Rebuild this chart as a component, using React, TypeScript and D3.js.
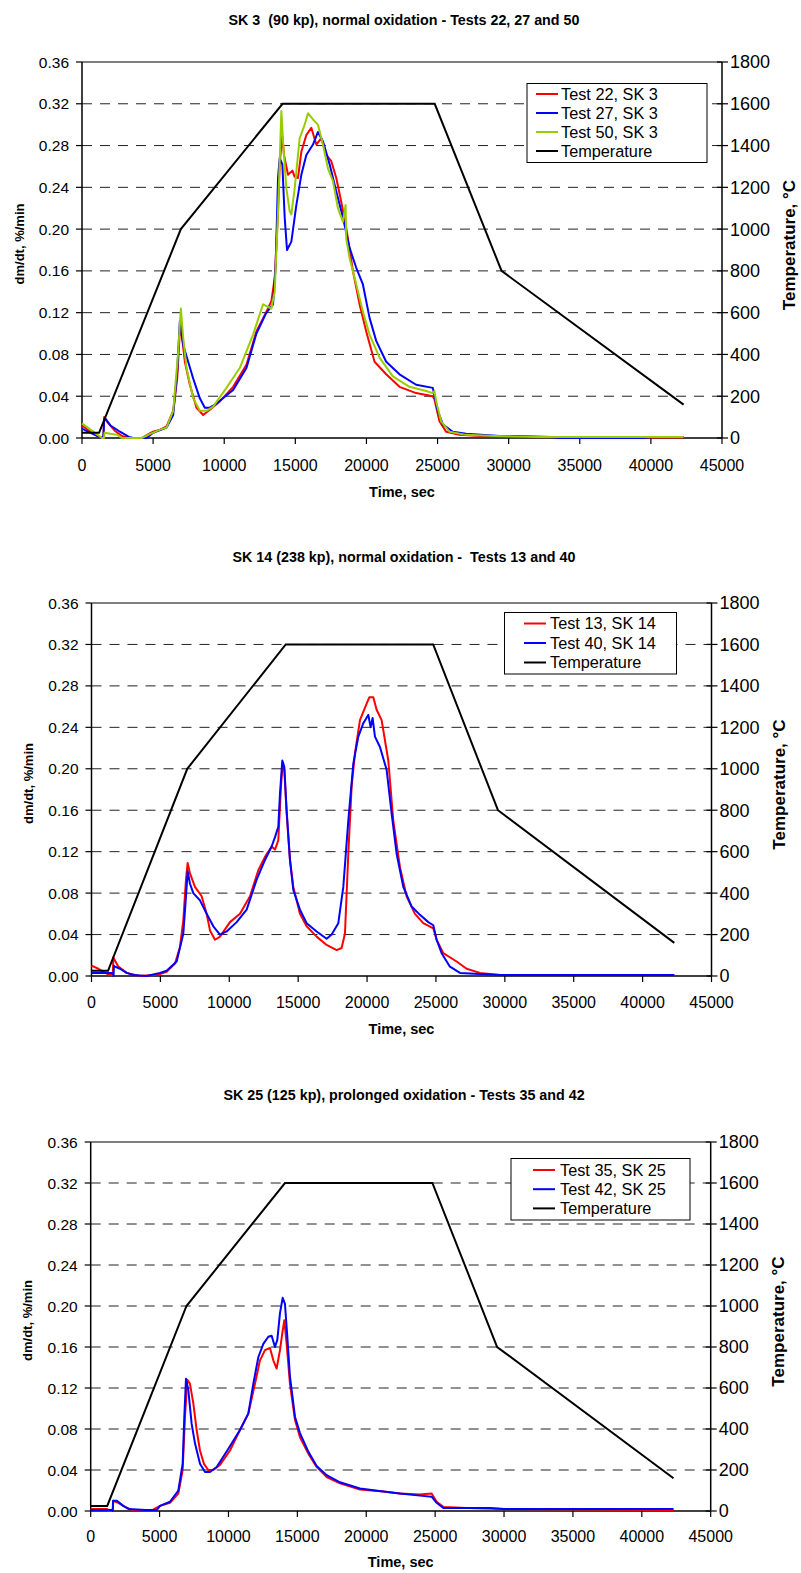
import React from "react";
import * as d3 from "d3";

type Pt = [number, number];

// ---------- shared axes ----------
const xTicks = [0, 5000, 10000, 15000, 20000, 25000, 30000, 35000, 40000, 45000];
const yTicks = [0, 0.04, 0.08, 0.12, 0.16, 0.2, 0.24, 0.28, 0.32, 0.36];
const tTicks = [0, 200, 400, 600, 800, 1000, 1200, 1400, 1600, 1800];

// temperature programme (time s, °C)
const temperature: Pt[] = [
  [0, 25], [1200, 25], [6950, 1000], [14100, 1600], [24800, 1600], [29500, 800], [42300, 160],
];

// ---------- panel 1: SK 3 ----------
const p1Test22: Pt[] = [
  [0, 0.012], [600, 0.006], [1200, 0.001], [1500, 0.0], [1560, 0.02], [1800, 0.015], [2300, 0.007], [2800, 0.002],
  [3300, 0.0], [4200, 0.0], [4700, 0.004], [5000, 0.006], [5500, 0.008], [5945, 0.011], [6413, 0.026], [6694, 0.057],
  [6850, 0.095], [6930, 0.11], [7050, 0.095], [7232, 0.073], [7583, 0.051], [8050, 0.029], [8519, 0.022], [8987, 0.027],
  [9689, 0.035], [10625, 0.049], [11561, 0.07], [12263, 0.102], [12965, 0.121], [13316, 0.131], [13550, 0.153],
  [13784, 0.217], [13900, 0.262], [14018, 0.281], [14088, 0.289], [14200, 0.271], [14486, 0.252], [14800, 0.256],
  [14950, 0.25], [15188, 0.249], [15422, 0.274], [15773, 0.29], [16124, 0.297], [16475, 0.281], [16826, 0.287],
  [17177, 0.271], [17528, 0.265], [17879, 0.249], [18230, 0.226], [18581, 0.201], [19049, 0.16], [19517, 0.128],
  [19985, 0.102], [20570, 0.073], [21389, 0.061], [22325, 0.049], [23495, 0.043], [24665, 0.04], [24780, 0.037],
  [25133, 0.016], [25601, 0.006], [26537, 0.003], [28000, 0.002], [30000, 0.001], [42300, 0.0005],
];
const p1Test27: Pt[] = [
  [0, 0.009], [600, 0.005], [1200, 0.001], [1500, 0.0], [1560, 0.018], [1616, 0.019], [2000, 0.012], [2669, 0.006],
  [3300, 0.001], [3600, 0.0], [4541, 0.0], [5000, 0.005], [5945, 0.01], [6413, 0.022], [6694, 0.064], [6881, 0.112],
  [6950, 0.105], [7115, 0.089], [7466, 0.073], [7817, 0.057], [8285, 0.038], [8636, 0.029], [8987, 0.029],
  [9455, 0.033], [10625, 0.046], [11561, 0.067], [12263, 0.1], [12965, 0.12], [13433, 0.128], [13620, 0.166],
  [13784, 0.249], [13901, 0.268], [14088, 0.262], [14252, 0.211], [14416, 0.18], [14720, 0.188], [15071, 0.223],
  [15422, 0.252], [15773, 0.271], [16241, 0.281], [16592, 0.293], [16943, 0.284], [17411, 0.262], [17879, 0.236],
  [18347, 0.211], [18815, 0.182], [19283, 0.163], [19751, 0.147], [20219, 0.115], [20687, 0.093], [21389, 0.073],
  [22325, 0.061], [23495, 0.051], [24665, 0.048], [24780, 0.041], [25016, 0.026], [25367, 0.013], [26069, 0.006],
  [27000, 0.004], [29345, 0.002], [30500, 0.002], [33000, 0.001], [33500, 0.0], [39500, 0.0], [40000, 0.001],
  [42300, 0.001],
];
const p1Test50: Pt[] = [
  [0, 0.014], [500, 0.009], [1000, 0.004], [1400, 0.0], [1550, 0.0], [1580, 0.005], [2000, 0.004], [2500, 0.003],
  [2800, 0.0], [4200, 0.0], [4800, 0.004], [5500, 0.008], [5945, 0.01], [6413, 0.026], [6750, 0.08], [6952, 0.124],
  [7115, 0.096], [7349, 0.067], [7817, 0.038], [8285, 0.026], [8753, 0.026], [9221, 0.03], [10157, 0.048],
  [11093, 0.067], [12029, 0.099], [12731, 0.128], [13316, 0.124], [13550, 0.14], [13784, 0.217], [14018, 0.313],
  [14135, 0.284], [14369, 0.239], [14603, 0.217], [14720, 0.214], [14954, 0.239], [15305, 0.287], [15656, 0.3],
  [15890, 0.311], [16241, 0.305], [16592, 0.3], [16943, 0.281], [17294, 0.258], [17645, 0.246], [17996, 0.22],
  [18347, 0.207], [18534, 0.223], [18580, 0.191], [18815, 0.172], [19283, 0.147], [19751, 0.121], [20219, 0.099],
  [20921, 0.077], [21857, 0.059], [23027, 0.049], [24197, 0.045], [24665, 0.043], [24780, 0.045], [24900, 0.035],
  [25250, 0.016], [25836, 0.006], [27000, 0.003], [29000, 0.002], [32000, 0.001], [42300, 0.001],
];

// ---------- panel 2: SK 14 ----------
const p2Test13: Pt[] = [
  [0, 0.01], [500, 0.007], [1000, 0.003], [1300, 0.001], [1550, 0.001], [1585, 0.018], [1947, 0.009], [2552, 0.003],
  [3500, 0.0], [4500, 0.001], [4971, 0.002], [5455, 0.004], [6060, 0.012], [6423, 0.028], [6665, 0.054],
  [6858, 0.093], [6979, 0.109], [7148, 0.099], [7511, 0.086], [7995, 0.077], [8358, 0.06], [8600, 0.044],
  [8963, 0.035], [9325, 0.038], [10051, 0.052], [10777, 0.06], [11503, 0.077], [12107, 0.102], [12591, 0.115],
  [13075, 0.125], [13317, 0.122], [13559, 0.131], [13752, 0.183], [13873, 0.205], [13994, 0.199], [14163, 0.157],
  [14405, 0.112], [14647, 0.086], [15131, 0.06], [15615, 0.048], [16340, 0.038], [17066, 0.03], [17792, 0.025],
  [18155, 0.027], [18397, 0.041], [18639, 0.118], [18881, 0.183], [19123, 0.215], [19486, 0.247], [19970, 0.263],
  [20163, 0.269], [20453, 0.269], [20695, 0.257], [21058, 0.247], [21541, 0.208], [21904, 0.15], [22388, 0.105],
  [22872, 0.077], [23477, 0.06], [24081, 0.051], [24807, 0.046], [25049, 0.035], [25533, 0.022], [26501, 0.014],
  [27226, 0.007], [28194, 0.003], [29645, 0.001], [35000, 0.001], [42300, 0.001],
];
const p2Test40: Pt[] = [
  [0, 0.003], [1550, 0.003], [1600, 0.0], [1630, 0.01], [1706, 0.009], [2068, 0.007], [2552, 0.003], [3036, 0.001],
  [4000, 0.0], [4971, 0.003], [5455, 0.005], [6181, 0.014], [6665, 0.041], [6858, 0.077], [6979, 0.101],
  [7148, 0.089], [7390, 0.08], [7874, 0.073], [8358, 0.06], [8842, 0.048], [9325, 0.04], [9809, 0.043],
  [10535, 0.052], [11261, 0.064], [11987, 0.093], [12591, 0.112], [13075, 0.125], [13317, 0.134], [13559, 0.144],
  [13680, 0.176], [13849, 0.208], [13994, 0.202], [14163, 0.16], [14405, 0.112], [14647, 0.083], [15131, 0.064],
  [15615, 0.051], [16340, 0.043], [17066, 0.036], [17430, 0.04], [17913, 0.051], [18276, 0.086], [18639, 0.15],
  [19002, 0.205], [19365, 0.231], [19728, 0.244], [20090, 0.252], [20259, 0.24], [20404, 0.249], [20574, 0.231],
  [20937, 0.221], [21420, 0.199], [21783, 0.157], [22146, 0.118], [22630, 0.086], [23235, 0.067], [23840, 0.059],
  [24444, 0.052], [24807, 0.049], [25049, 0.035], [25412, 0.022], [26017, 0.009], [26743, 0.003], [29645, 0.001],
  [42300, 0.001],
];

// ---------- panel 3: SK 25 ----------
const p3Test35: Pt[] = [
  [0, 0.002], [1200, 0.002], [1300, 0.0], [1600, 0.0], [1643, 0.01], [2005, 0.008], [2489, 0.004], [3000, 0.001],
  [4500, 0.001], [5029, 0.005], [5755, 0.008], [6360, 0.017], [6674, 0.04], [6843, 0.092], [7013, 0.128],
  [7206, 0.124], [7448, 0.105], [7690, 0.079], [7932, 0.059], [8222, 0.046], [8537, 0.04], [8900, 0.04],
  [9383, 0.045], [10109, 0.059], [10835, 0.079], [11440, 0.095], [11923, 0.124], [12286, 0.147], [12649, 0.157],
  [13012, 0.159], [13254, 0.147], [13496, 0.139], [13738, 0.157], [13932, 0.176], [14052, 0.186], [14222, 0.163],
  [14463, 0.124], [14826, 0.089], [15189, 0.072], [15794, 0.056], [16399, 0.043], [17124, 0.033], [18092, 0.027],
  [19543, 0.021], [21237, 0.019], [22446, 0.017], [23897, 0.016], [24744, 0.017], [25108, 0.009], [25591, 0.004],
  [27284, 0.003], [30000, 0.002], [42300, 0.001],
];
const p3Test42: Pt[] = [
  [0, 0.001], [1550, 0.001], [1600, 0.0], [1620, 0.01], [1900, 0.01], [2368, 0.005], [2731, 0.002], [4000, 0.001],
  [4800, 0.001], [5029, 0.005], [5755, 0.009], [6360, 0.02], [6674, 0.046], [6795, 0.092], [6916, 0.129],
  [7085, 0.118], [7327, 0.085], [7569, 0.066], [7932, 0.046], [8295, 0.038], [8658, 0.038], [9141, 0.043],
  [9867, 0.058], [10835, 0.079], [11440, 0.095], [11802, 0.124], [12165, 0.15], [12528, 0.163], [12891, 0.17],
  [13133, 0.171], [13375, 0.16], [13544, 0.167], [13738, 0.193], [13932, 0.208], [14100, 0.202], [14270, 0.17],
  [14463, 0.131], [14826, 0.092], [15189, 0.076], [15794, 0.058], [16399, 0.044], [17124, 0.035], [18092, 0.028],
  [19543, 0.022], [21237, 0.019], [22446, 0.017], [23897, 0.015], [24744, 0.014], [25108, 0.008], [25591, 0.003],
  [27284, 0.003], [29000, 0.003], [30000, 0.002], [42300, 0.002],
];

const RED = "#ff0000";
const BLUE = "#0000ff";
const GREEN = "#99cc00";
const FONT = "'Liberation Sans', Arial, Helvetica, sans-serif";

type Series = { name: string; color: string; data: Pt[] };
type PanelProps = {
  title: string;
  left: number; right: number; top: number; bottom: number;
  series: Series[];
  legend: { x: number; y: number; w: number; h: number; sampleX: number; textX: number; row0: number; rowStep: number };
  tickLabelDy: number; xTitleDy: number; titleY: number;
};

function Panel(p: PanelProps) {
  const x = d3.scaleLinear().domain([0, 45000]).range([p.left, p.right]);
  const y = d3.scaleLinear().domain([0, 0.36]).range([p.bottom, p.top]);
  const yT = d3.scaleLinear().domain([0, 1800]).range([p.bottom, p.top]);
  const line = d3.line<Pt>().x((d) => x(d[0])).y((d) => y(d[1]));
  const tLine = d3.line<Pt>().x((d) => x(d[0])).y((d) => yT(d[1]));
  const cx = (p.left + p.right) / 2;
  const cy = (p.top + p.bottom) / 2;
  const legendItems = [...p.series.map((s) => ({ name: s.name, color: s.color })), { name: "Temperature", color: "#000" }];
  return (
    <g fontFamily={FONT}>
      <text x={404} y={p.titleY} textAnchor="middle" fontWeight="bold" fontSize={14.3} style={{ whiteSpace: "pre" }}>{p.title}</text>
      {/* gridlines */}
      {yTicks.filter((v) => v > 0 && v < 0.36).map((v) => (
        <line key={v} x1={p.left} x2={p.right} y1={y(v)} y2={y(v)} stroke="#222" strokeWidth={1} strokeDasharray="10,8" />
      ))}
      {/* frame */}
      <line x1={p.left} x2={p.right} y1={p.top} y2={p.top} stroke="#000" strokeWidth={1.2} />
      <line x1={p.left} x2={p.left} y1={p.top} y2={p.bottom} stroke="#000" strokeWidth={1.5} />
      <line x1={p.right} x2={p.right} y1={p.top} y2={p.bottom} stroke="#000" strokeWidth={1.5} />
      <line x1={p.left} x2={p.right} y1={p.bottom} y2={p.bottom} stroke="#000" strokeWidth={1.5} />
      {/* left ticks */}
      {yTicks.map((v) => (
        <g key={"l" + v}>
          <line x1={p.left - 6} x2={p.left} y1={y(v)} y2={y(v)} stroke="#000" strokeWidth={1.2} />
          <text x={p.left - 13} y={y(v)} dy="0.36em" textAnchor="end" fontSize={15.5}>{v.toFixed(2)}</text>
        </g>
      ))}
      {/* right ticks */}
      {tTicks.map((v) => (
        <g key={"r" + v}>
          <line x1={p.right - 5} x2={p.right + 6} y1={yT(v)} y2={yT(v)} stroke="#000" strokeWidth={1.2} />
          <text x={p.right + 8} y={yT(v)} dy="0.36em" textAnchor="start" fontSize={18}>{v}</text>
        </g>
      ))}
      {/* bottom ticks */}
      {xTicks.map((v) => (
        <g key={"b" + v}>
          <line x1={x(v)} x2={x(v)} y1={p.bottom} y2={p.bottom + 6} stroke="#000" strokeWidth={1.2} />
          <text x={x(v)} y={p.bottom + p.tickLabelDy} dy="0.36em" textAnchor="middle" fontSize={16}>{v}</text>
        </g>
      ))}
      <text x={cx} y={p.bottom + p.xTitleDy} dy="0.36em" textAnchor="middle" fontWeight="bold" fontSize={14.5}>Time, sec</text>
      <text transform={`translate(${p.left - 63},${cy - 6}) rotate(-90)`} dy="0.36em" textAnchor="middle" fontWeight="bold" fontSize={13}>dm/dt, %/min</text>
      <text transform={`translate(${p.right + 67},${cy - 5}) rotate(-90)`} dy="0.36em" textAnchor="middle" fontWeight="bold" fontSize={17}>Temperature, °C</text>
      {/* data */}
      {p.series.map((s) => (
        <path key={s.name} d={line(s.data) || ""} fill="none" stroke={s.color} strokeWidth={2} strokeLinejoin="round" />
      ))}
      <path d={tLine(temperature) || ""} fill="none" stroke="#000" strokeWidth={2} />
      {/* legend */}
      <rect x={p.legend.x} y={p.legend.y} width={p.legend.w} height={p.legend.h} fill="#fff" stroke="#000" strokeWidth={1} />
      {legendItems.map((it, i) => {
        const ry = p.legend.row0 + i * p.legend.rowStep;
        return (
          <g key={it.name}>
            <line x1={p.legend.sampleX} x2={p.legend.sampleX + 22} y1={ry} y2={ry} stroke={it.color} strokeWidth={2} />
            <text x={p.legend.textX} y={ry} dy="0.36em" fontSize={16.3}>{it.name}</text>
          </g>
        );
      })}
    </g>
  );
}

export default function App() {
  return (
    <svg width={801} height={1573} style={{ position: "absolute", left: 0, top: 0, background: "#fff" }}>
      <rect width={801} height={1573} fill="#fff" />
      <Panel
        title="SK 3  (90 kp), normal oxidation - Tests 22, 27 and 50"
        left={82} right={722} top={62} bottom={438} titleY={25}
        tickLabelDy={27} xTitleDy={54}
        series={[
          { name: "Test 22, SK 3", color: RED, data: p1Test22 },
          { name: "Test 27, SK 3", color: BLUE, data: p1Test27 },
          { name: "Test 50, SK 3", color: GREEN, data: p1Test50 },
        ]}
        legend={{ x: 527, y: 83.5, w: 180, h: 79, sampleX: 536, textX: 561, row0: 94, rowStep: 19 }}
      />
      <Panel
        title="SK 14 (238 kp), normal oxidation -  Tests 13 and 40"
        left={91.5} right={711.5} top={603} bottom={976} titleY={562}
        tickLabelDy={26} xTitleDy={53}
        series={[
          { name: "Test 13, SK 14", color: RED, data: p2Test13 },
          { name: "Test 40, SK 14", color: BLUE, data: p2Test40 },
        ]}
        legend={{ x: 504.5, y: 612.5, w: 172, h: 61.5, sampleX: 524, textX: 550, row0: 623.5, rowStep: 19.5 }}
      />
      <Panel
        title="SK 25 (125 kp), prolonged oxidation - Tests 35 and 42"
        left={90.7} right={710.7} top={1142} bottom={1511} titleY={1100}
        tickLabelDy={25} xTitleDy={51}
        series={[
          { name: "Test 35, SK 25", color: RED, data: p3Test35 },
          { name: "Test 42, SK 25", color: BLUE, data: p3Test42 },
        ]}
        legend={{ x: 511, y: 1158.5, w: 179, h: 61.5, sampleX: 533, textX: 560, row0: 1170, rowStep: 19.2 }}
      />
    </svg>
  );
}
